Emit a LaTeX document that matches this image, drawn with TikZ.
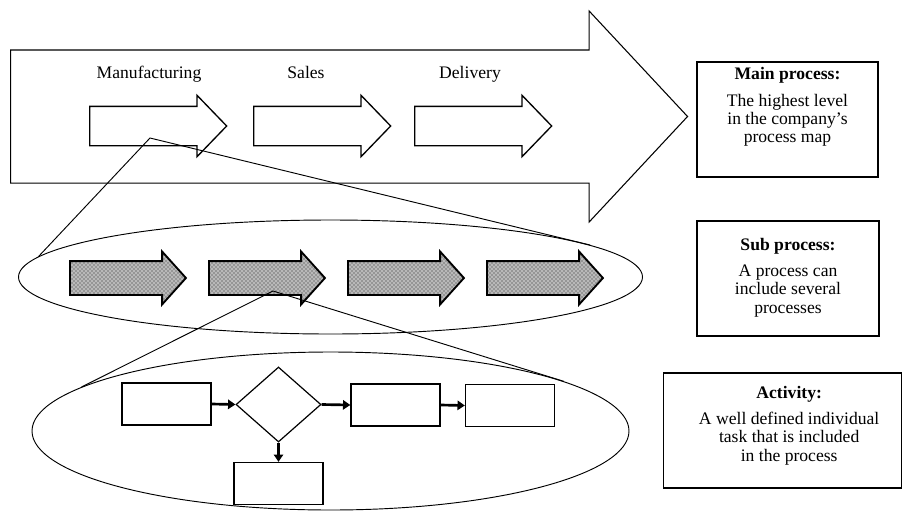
\documentclass[tikz,border=0pt]{standalone}
\usepackage{fontspec}
\setmainfont{Liberation Serif}
\usetikzlibrary{arrows.meta,shapes.arrows,shapes.geometric,patterns,positioning}

\tikzset{
    bigarrow/.style={single arrow, draw, line width=0.8pt, anchor=tail, inner xsep=0pt, inner ysep=49.5pt,
        text height=0pt, text depth=0pt, minimum height=507.75pt, minimum width=157.5pt,
        single arrow head extend=29.25pt, single arrow tip angle=94},
    steparrow/.style={single arrow, draw, line width=1pt, anchor=tail, inner xsep=0pt, inner ysep=14.25pt,
        text height=0pt, text depth=0pt, minimum height=102.75pt, minimum width=45pt,
        single arrow head extend=8.25pt, single arrow tip angle=92},
    subarrow/.style={single arrow, draw, line width=1.4pt, anchor=tail, inner xsep=0pt, inner ysep=12pt,
        text height=0pt, text depth=0pt, minimum height=87pt, minimum width=38.25pt,
        single arrow head extend=7.125pt, single arrow tip angle=96,
        preaction={fill=gray!55}, pattern=crosshatch dots, pattern color=black!85},
    level/.style={draw, ellipse, line width=0.7pt, inner sep=0pt},
    zoomline/.style={line width=0.7pt},
    task/.style={draw, line width=1pt, minimum width=66.75pt, minimum height=31.5pt, inner sep=0pt},
    choice/.style={draw, diamond, line width=0.9pt, minimum width=63.75pt, minimum height=56.25pt, inner sep=0pt},
    flow/.style={-{Triangle[length=5.5pt,width=7pt]}, line width=2pt},
    infobox/.style={draw, line width=1pt, minimum height=86.25pt, inner sep=0pt},
    infotext/.style={align=center, inner sep=0pt, font=\fontsize{13.2}{13.75}\selectfont},
    steplabel/.style={anchor=base, inner sep=0pt, font=\fontsize{13.2}{13.75}\selectfont}
}

\begin{document}
\begin{tikzpicture}[x=0.75pt,y=-0.75pt]
    \useasboundingbox (0,0) rectangle (903,511);

    \node[bigarrow] (main) at (10,116.5) {};
    \node[steparrow] (manu) at (89,126) {};
    \node[steparrow] (sales) at (253,126) {};
    \node[steparrow] (deliv) at (414,126) {};
    \node[steplabel] (manulabel) at (149,78) {Manufacturing};
    \node[steplabel] (saleslabel) at (306,78) {Sales};
    \node[steplabel] (delivlabel) at (470,78) {Delivery};

    \node[level, minimum width=468pt, minimum height=85.5pt] (subs) at (330.5,277) {};
    \foreach \x [count=\i] in {69,208,347,486}
        \node[subarrow] (sub\i) at (\x,278) {};

    \node[level, minimum width=447.75pt, minimum height=118.5pt] (acts) at (330.5,431) {};
    \node[task] (taskA) at (166.5,404) {};
    \node[choice] (check) at (278.5,404.5) {};
    \node[task] (taskB) at (395.5,405) {};
    \node[task] (taskC) at (510,405.5) {};
    \node[task] (taskD) at (278.5,483.5) {};
    \draw[flow] (taskA.east) -- (check.west);
    \draw[flow] (check.east) -- (taskB.west);
    \draw[flow] (taskB.east) -- (taskC.west);
    \draw[flow] (check.south) -- (taskD.north);

    \coordinate (zoomA) at (150,138);
    \coordinate (zoomB) at (273,291);
    \draw[zoomline] (subs.176.4) -- (zoomA) -- (subs.7.1);
    \draw[zoomline] (acts.170.6) -- (zoomB) -- (acts.12.7);

    \node[infobox, minimum width=135.75pt] (mainbox) at (787.5,119.5) {};
    \node[infotext, below=4.5pt of mainbox.north] (maintext)
        {\textbf{Main process:}\\[6pt]The highest level\\in the company's\\process map};
    \node[infobox, minimum width=136.5pt] (subbox) at (788,278.5) {};
    \node[infotext, below=13pt of subbox.north] (subtext)
        {\textbf{Sub process:}\\[6pt]A process can\\include several\\processes};
    \node[infobox, minimum width=178.5pt] (actbox) at (782.5,430.5) {};
    \node[infotext, below=10pt of actbox.north, xshift=5pt] (acttext)
        {\textbf{Activity:}\\[6pt]A well defined individual\\task that is included\\in the process};
\end{tikzpicture}
\end{document}
